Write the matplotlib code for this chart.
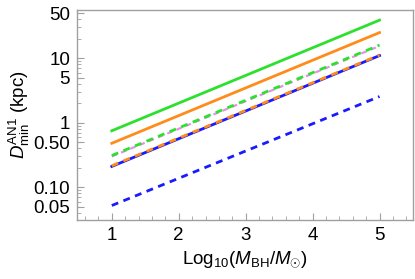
import matplotlib
matplotlib.use('Agg')
import matplotlib.pyplot as plt
import matplotlib.ticker as mticker

plt.rcParams['font.family'] = ['Liberation Sans', 'DejaVu Sans']
plt.rcParams['mathtext.fontset'] = 'custom'
plt.rcParams['mathtext.rm'] = 'Liberation Sans'
plt.rcParams['mathtext.it'] = 'Liberation Sans:italic'

# log10(M_BH / M_sun)
log_mbh = [1, 5]

# D_min^AN1 (kpc) at the two ends of each line
green_solid = [0.75, 39.0]
orange_solid = [0.48, 25.0]
green_dashed = [0.31, 16.0]
magenta_dashed = [0.30, 15.5]
blue_solid = [0.21, 11.0]
orange_dashed = [0.215, 11.2]
blue_dashed = [0.052, 2.55]

fig = plt.figure(figsize=(4.15, 2.79), dpi=100)
ax = fig.add_axes([77 / 415, 1 - 220 / 279, 336 / 415, 210 / 279])

dash = (2.5, 2.0)
ax.plot(log_mbh, green_solid, color='#2ee02e', lw=2)
ax.plot(log_mbh, orange_solid, color='#ff8c1a', lw=2)
ax.plot(log_mbh, magenta_dashed, color='#e890e8', lw=1.6, ls=(0, dash))
ax.plot(log_mbh, green_dashed, color='#2ee02e', lw=2, ls=(0, dash))
ax.plot(log_mbh, blue_solid, color='#1a1aff', lw=2)
ax.plot(log_mbh, orange_dashed, color='#ff8c1a', lw=2, ls=(0, dash))
ax.plot(log_mbh, blue_dashed, color='#1a1aff', lw=2, ls=(0, dash))

ax.set_yscale('log')
ax.set_xlim(0.48, 5.5)
ax.set_ylim(0.031, 56)

ax.set_xticks([1, 2, 3, 4, 5])
yt = [0.05, 0.1, 0.5, 1, 5, 10, 50]
ax.yaxis.set_major_locator(mticker.FixedLocator(yt))
ax.yaxis.set_major_formatter(mticker.FixedFormatter(['0.05', '0.10', '0.50', '1', '5', '10', '50']))
minor = [0.04, 0.06, 0.07, 0.08, 0.09, 0.2, 0.3, 0.4, 0.6, 0.7, 0.8, 0.9,
         2, 3, 4, 6, 7, 8, 9, 20, 30, 40]
ax.yaxis.set_minor_locator(mticker.FixedLocator(minor))
ax.yaxis.set_minor_formatter(mticker.NullFormatter())
ax.xaxis.set_minor_locator(mticker.MultipleLocator(0.2))

for s in ax.spines.values():
    s.set_color('#a0a0a0')
    s.set_linewidth(1)
ax.tick_params(which='both', direction='in', colors='#a0a0a0', labelcolor='black',
               labelsize=13.5, top=False, right=False)
ax.tick_params(which='major', length=5, pad=5)
ax.tick_params(which='minor', length=3)

ax.set_xlabel(r'Log$_{10}$($M_{\rm BH}$/$M_{\odot}$)', fontsize=13.5, labelpad=4)
ax.set_ylabel(r'$D^{\rm AN1}_{\rm min}$ (kpc)', fontsize=13.5, labelpad=1)

fig.savefig('out.png', dpi=100)
